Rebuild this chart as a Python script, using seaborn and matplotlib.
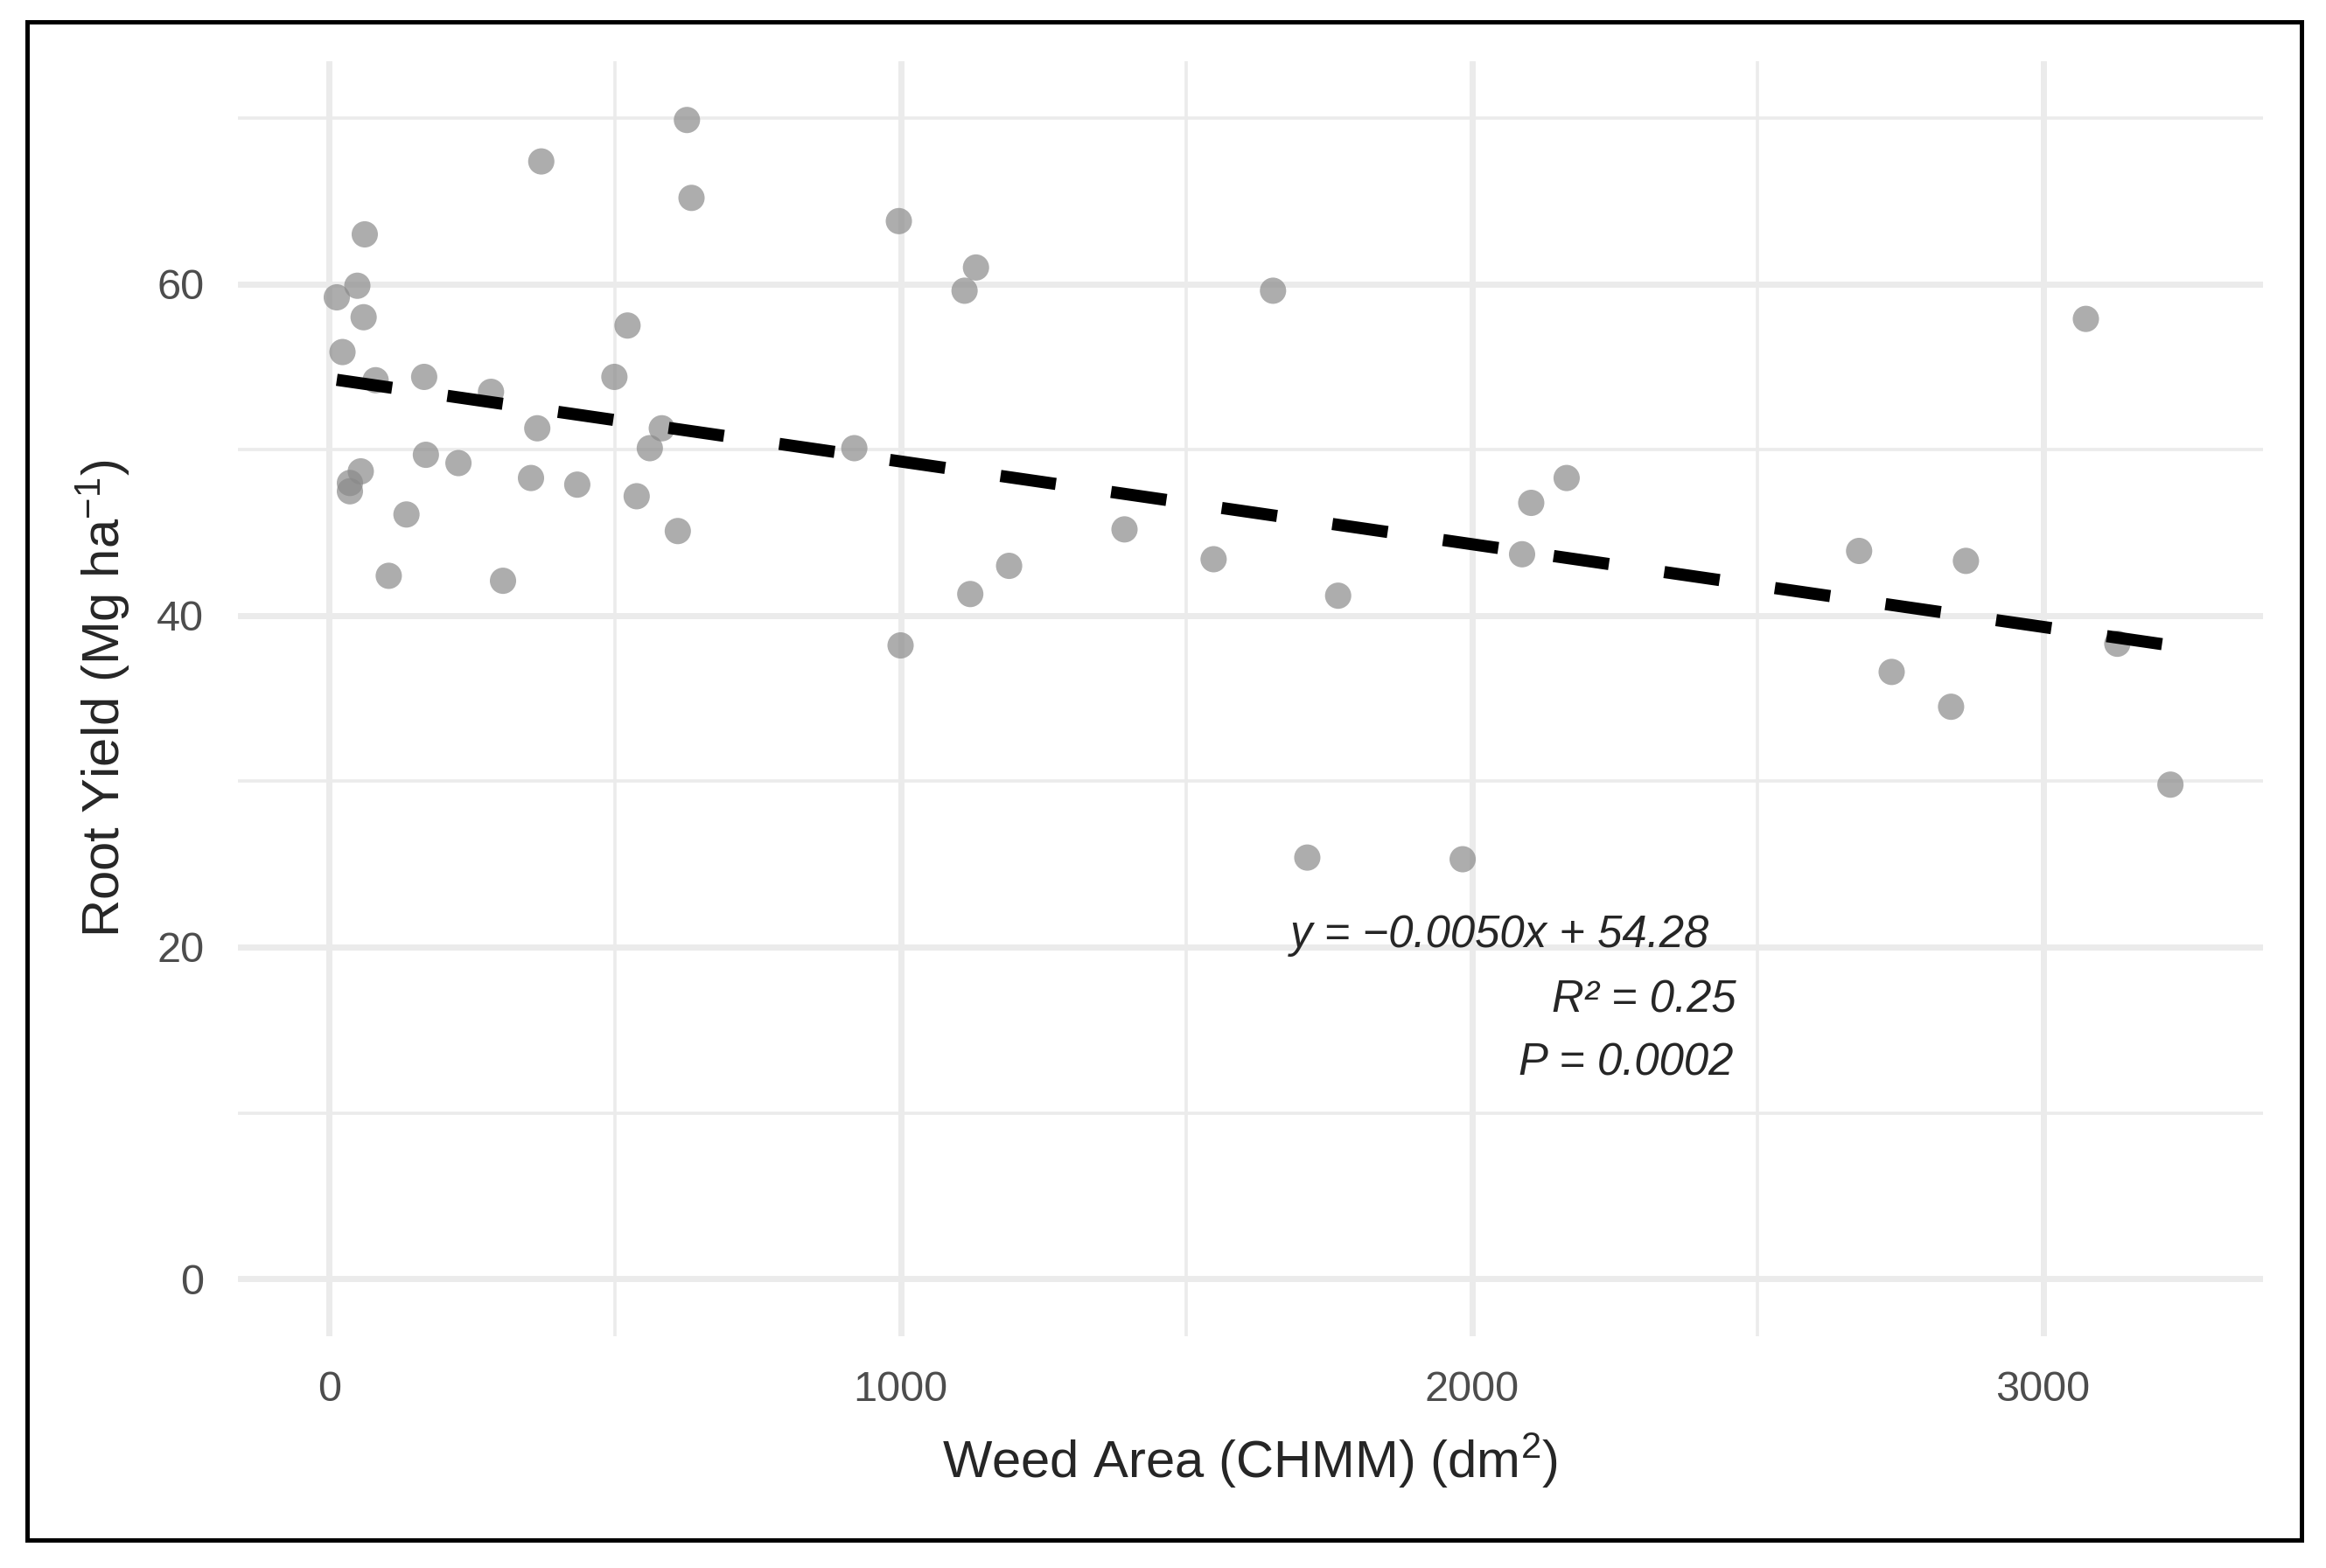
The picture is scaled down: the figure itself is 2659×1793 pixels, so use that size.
import numpy as np
import pandas as pd
import matplotlib
matplotlib.use('Agg')
import matplotlib.pyplot as plt
import seaborn as sns
from matplotlib.patches import Rectangle

# values
weed_area = [13, 23, 49, 62, 60, 81, 36, 36, 55, 104, 135, 166, 169, 226, 283,
             304, 353, 364, 371, 434, 499, 522, 538, 561, 582, 610, 626, 634,
             919, 997, 1000, 1112, 1132, 1122, 1190, 1392, 1548, 1652, 1712,
             1766, 1984, 2088, 2104, 2166, 2678, 2735, 2839, 2865, 3075, 3130,
             3223]
root_yield = [59.2, 55.9, 59.9, 63.0, 58.0, 54.2, 48.0, 47.5, 48.7, 42.4, 46.1,
              54.4, 49.7, 49.2, 53.5, 42.1, 48.3, 51.3, 67.4, 47.9, 54.4, 57.5,
              47.2, 50.1, 51.3, 45.1, 69.9, 65.2, 50.1, 63.8, 38.2, 59.6, 61.0,
              41.3, 43.0, 45.2, 43.4, 59.6, 25.4, 41.2, 25.3, 43.7, 46.8, 48.3,
              43.9, 36.6, 34.5, 43.3, 57.9, 38.3, 29.8]

x_ticks = [0, 1000, 2000, 3000]
x_minor = [500, 1500, 2500]
y_ticks = [0, 20, 40, 60]
y_minor = [10, 30, 50, 70]

eq_text = 'y = \u22120.0050x + 54.28'
r2_text = 'R\u00b2 = 0.25'
p_text = 'P = 0.0002'

sns.set_style('white')
plt.rcParams['font.family'] = ['Liberation Sans', 'DejaVu Sans']
plt.rcParams['mathtext.fontset'] = 'custom'
plt.rcParams['mathtext.rm'] = 'Liberation Sans'
plt.rcParams['mathtext.it'] = 'Liberation Sans:italic'
plt.rcParams['mathtext.default'] = 'regular'

df = pd.DataFrame({'area': weed_area, 'yield': root_yield})

fig = plt.figure(figsize=(13.295, 8.965), dpi=200)
ax = fig.add_axes([0.1023, 0.1478, 0.8706, 0.8132])

# ggplot-ish minimal grid
ax.set_xticks(x_ticks)
ax.set_xticks(x_minor, minor=True)
ax.set_yticks(y_ticks)
ax.set_yticks(y_minor, minor=True)
ax.grid(which='major', color='#EBEBEB', linewidth=2.5)
ax.grid(which='minor', color='#EBEBEB', linewidth=1.3)
ax.set_axisbelow(True)
for s in ax.spines.values():
    s.set_visible(False)
ax.tick_params(which='both', length=0)
ax.tick_params(axis='both', labelsize=17.5, labelcolor='#4D4D4D', pad=14)

sns.scatterplot(data=df, x='area', y='yield', s=117, color='#8A8A8A',
                alpha=0.7, edgecolor='none', ax=ax, zorder=2)
sns.regplot(data=df, x='area', y='yield', scatter=False, ci=None, ax=ax,
            line_kws=dict(color='black', linewidth=5.0, dashes=(4.6, 4.6),
                          dash_capstyle='butt', zorder=3))

ax.set_xlim(-160, 3385)
ax.set_ylim(-3.48, 73.45)

ax.set_xlabel('Weed Area (CHMM) (dm$^2$)', fontsize=21.5, labelpad=9)
ax.set_ylabel('Root Yield (Mg ha$^{-1}$)', fontsize=21.5, labelpad=10)

ax.text(1682, 20.7, eq_text, fontsize=18.3, style='italic', ha='left', va='center')
ax.text(2462, 16.8, r2_text, fontsize=18.3, style='italic', ha='right', va='center')
ax.text(2457, 13.0, p_text, fontsize=18.3, style='italic', ha='right', va='center')

# black frame round the whole figure
fig.patches.append(Rectangle((31 / 2659, 1 - 1761 / 1793), 2600 / 2659, 1736 / 1793,
                             transform=fig.transFigure, fill=False,
                             edgecolor='black', linewidth=1.8))

fig.savefig('out.png', dpi=200)
